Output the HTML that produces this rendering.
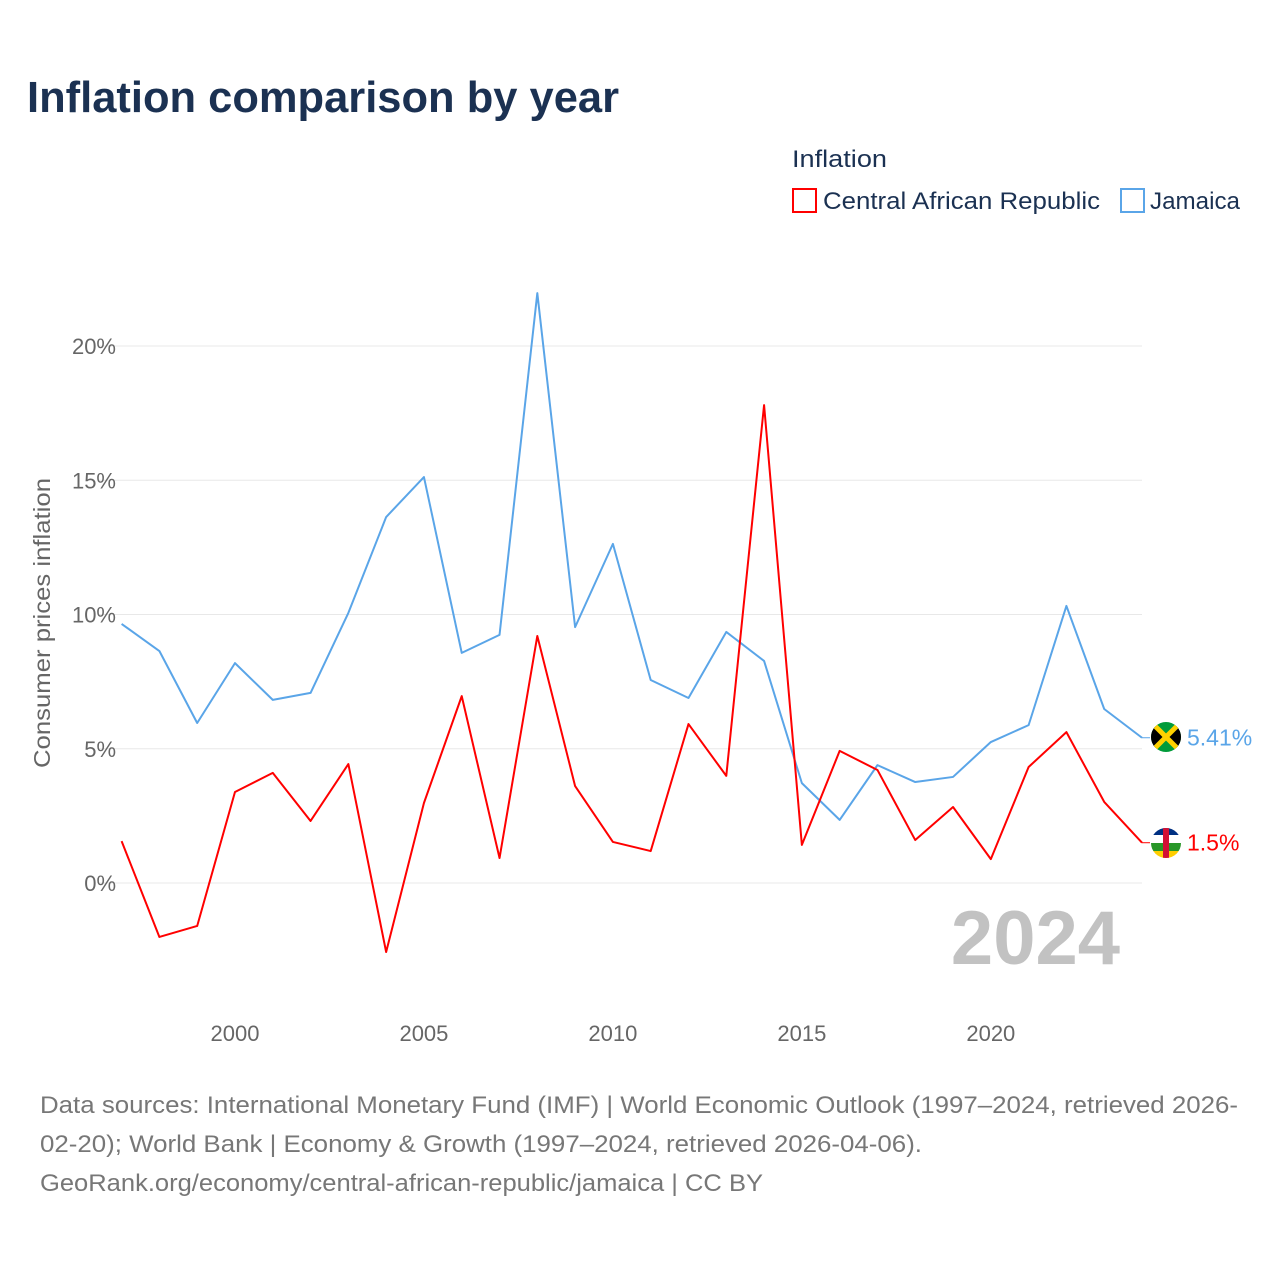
<!DOCTYPE html>
<html><head><meta charset="utf-8"><style>
body{margin:0;background:#fff;font-family:"Liberation Sans",sans-serif;}
#wrap{position:relative;width:1280px;height:1280px;overflow:hidden;}
</style></head><body>
<div id="wrap">
<svg id="chart" width="1280" height="1280" xmlns="http://www.w3.org/2000/svg">
<text x="27" y="112" font-size="44" font-weight="bold" fill="#1b3152" textLength="592" lengthAdjust="spacingAndGlyphs">Inflation comparison by year</text>
<text x="792" y="167" font-size="24" fill="#1b3152" textLength="95" lengthAdjust="spacingAndGlyphs">Inflation</text>
<g><rect x="793" y="189" width="23" height="23" fill="none" stroke="#f00" stroke-width="2"/><text x="823" y="209" font-size="24" fill="#1b3152" textLength="277" lengthAdjust="spacingAndGlyphs">Central African Republic</text></g>
<g><rect x="1121" y="189" width="23" height="23" fill="none" stroke="#5aa5e8" stroke-width="2"/><text x="1150" y="209" font-size="24" fill="#1b3152" textLength="90" lengthAdjust="spacingAndGlyphs">Jamaica</text></g>
<text transform="translate(50,623) rotate(-90)" text-anchor="middle" font-size="23" fill="#666" textLength="290" lengthAdjust="spacingAndGlyphs">Consumer prices inflation</text>
<g id="grid"></g><g id="lines"></g>
<text x="1120" y="964" text-anchor="end" font-size="76" font-weight="bold" fill="#c2c2c2">2024</text>
<g><clipPath id="cj"><circle cx="1166" cy="737" r="15"/></clipPath><g clip-path="url(#cj)"><rect x="1150" y="721" width="32" height="32" fill="#009b3a"/><polygon points="1151,722 1166,737 1151,752" fill="#000"/><polygon points="1181,722 1166,737 1181,752" fill="#000"/><line x1="1150" y1="721" x2="1182" y2="753" stroke="#fed100" stroke-width="5"/><line x1="1182" y1="721" x2="1150" y2="753" stroke="#fed100" stroke-width="5"/></g></g>
<g><clipPath id="cc"><circle cx="1166" cy="843" r="15"/></clipPath><g clip-path="url(#cc)"><rect x="1150" y="827" width="32" height="8" fill="#003082"/><rect x="1150" y="835" width="32" height="8" fill="#fff"/><rect x="1150" y="843" width="32" height="8" fill="#289728"/><rect x="1150" y="851" width="32" height="8" fill="#ffce00"/><rect x="1163" y="827" width="6" height="32" fill="#d21034"/></g></g>
<text x="40" y="1113" font-size="24" fill="#777" textLength="1198" lengthAdjust="spacingAndGlyphs">Data sources: International Monetary Fund (IMF) | World Economic Outlook (1997–2024, retrieved 2026-</text>
<text x="40" y="1152" font-size="24" fill="#777" textLength="882" lengthAdjust="spacingAndGlyphs">02-20); World Bank | Economy &amp; Growth (1997–2024, retrieved 2026-04-06).</text>
<text x="40" y="1191" font-size="24" fill="#777" textLength="723" lengthAdjust="spacingAndGlyphs">GeoRank.org/economy/central-african-republic/jamaica | CC BY</text>
</svg></div>
<script>
const years=[1997,1998,1999,2000,2001,2002,2003,2004,2005,2006,2007,2008,2009,2010,2011,2012,2013,2014,2015,2016,2017,2018,2019,2020,2021,2022,2023,2024];
const jamaica=[9.65,8.64,5.96,8.19,6.82,7.08,10.06,13.63,15.12,8.57,9.24,21.97,9.53,12.63,7.56,6.89,9.35,8.27,3.72,2.35,4.39,3.76,3.95,5.25,5.88,10.32,6.48,5.41];
const car=[1.56,-2.01,-1.6,3.39,4.10,2.31,4.43,-2.57,2.98,6.96,0.93,9.2,3.61,1.53,1.19,5.92,3.99,17.8,1.42,4.92,4.21,1.6,2.83,0.89,4.32,5.62,3.02,1.5];
const yTicks=[0,5,10,15,20];
const xTicks=[2000,2005,2010,2015,2020];
const NS="http://www.w3.org/2000/svg";
const X=y=>121.6+(y-1997)*(1142-121.6)/27;
const Y=v=>883-v*26.85;
const grid=document.getElementById('grid'),lines=document.getElementById('lines');
function mk(t,a,p){const e=document.createElementNS(NS,t);for(const k in a)e.setAttribute(k,a[k]);p.appendChild(e);return e;}
yTicks.forEach(v=>{
 const l=mk('line',{x1:98,x2:1142,y1:Y(v),y2:Y(v),stroke:'#e8e8e8','stroke-width':1},grid);
 
 
 const t=mk('text',{x:116,y:Y(v)+8,'text-anchor':'end','font-size':22,fill:'#666'},grid);
 t.textContent=v+'%';
 
 
});
xTicks.forEach(v=>{
 const t=mk('text',{x:X(v),y:1041,'text-anchor':'middle','font-size':22,fill:'#666'},grid);
 t.textContent=v;
 
 
});
function series(vals,color,name){
 const p=mk('polyline',{points:vals.map((v,i)=>X(years[i])+','+Y(v)).join(' '),fill:'none',stroke:color,'stroke-width':2,'stroke-linejoin':'round'},lines);
 
 
 const last=vals[vals.length-1];
 const c=mk('line',{x1:X(2024),x2:X(2024)+8,y1:Y(last),y2:Y(last),stroke:color,'stroke-width':1},lines);
 
 
 const t=mk('text',{x:1187,y:Y(last)+8,'font-size':23,fill:color},lines);
 t.textContent=last+'%';
 
 
}
series(jamaica,'#5aa5e8','jamaica');
series(car,'#f00','car');
</script>
</body></html>
